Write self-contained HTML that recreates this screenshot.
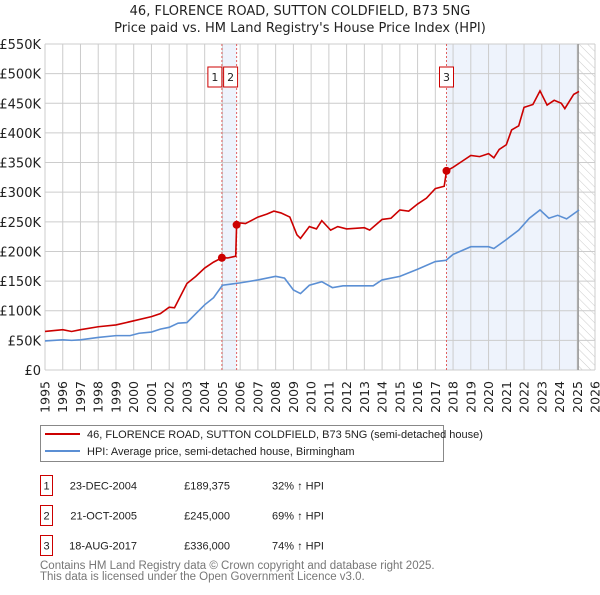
<!DOCTYPE html>
<html><head><meta charset="utf-8"><style>
body{margin:0;background:#fff;font-family:"Liberation Sans","DejaVu Sans",sans-serif;}
svg text{font-family:"DejaVu Sans","Liberation Sans",sans-serif;}
svg text.lib{font-family:"Liberation Sans","DejaVu Sans",sans-serif;}
</style></head><body>
<svg id="chart" width="600" height="590" viewBox="0 0 600 590">
<defs>
<pattern id="hatch" width="6" height="6" patternUnits="userSpaceOnUse" patternTransform="rotate(-45)">
<line x1="0" y1="0" x2="0" y2="6" stroke="#ccc" stroke-width="1"/></pattern>
</defs>
<text x="300" y="15" text-anchor="middle" font-size="13" fill="#222">46, FLORENCE ROAD, SUTTON COLDFIELD, B73 5NG</text>
<text x="300" y="32" text-anchor="middle" font-size="13" fill="#222">Price paid vs. HM Land Registry's House Price Index (HPI)</text>
<g id="bg"></g><g id="grid"></g><g id="marks"></g><g id="axes"></g>
<rect x="40.5" y="425.5" width="403" height="36" fill="#fff" stroke="#888"/>
<line x1="45" y1="434" x2="80" y2="434" stroke="#cc0000" stroke-width="2"/>
<text class="lib" x="87" y="438" font-size="11" fill="#222">46, FLORENCE ROAD, SUTTON COLDFIELD, B73 5NG (semi-detached house)</text>
<line x1="45" y1="451" x2="80" y2="451" stroke="#5b8fd4" stroke-width="2"/>
<text class="lib" x="87" y="455" font-size="11" fill="#222">HPI: Average price, semi-detached house, Birmingham</text>
<g font-size="11" fill="#222" id="table"></g>
<text class="lib" x="40" y="569" font-size="11.5" fill="#777">Contains HM Land Registry data © Crown copyright and database right 2025.</text>
<text class="lib" x="40" y="580" font-size="11.5" fill="#777">This data is licensed under the Open Government Licence v3.0.</text>
</svg>
<script>
const hpiYears=[1995,1996,1996.5,1997,1998,1999,1999.8,2000.3,2001,2001.5,2002,2002.5,2003,2003.5,2004,2004.5,2005,2005.5,2006,2007,2008,2008.5,2009,2009.4,2009.9,2010.6,2011.2,2011.8,2012.5,2013.5,2014,2015,2016,2017,2017.6,2018,2019,2020,2020.3,2021,2021.7,2022.3,2022.9,2023.4,2023.9,2024.4,2025.1];
const hpiValues=[49,51,50,51,55,58,58,62,64,69,72,79,80,95,110,122,143,145,147,152,158,155,135,129,143,149,139,142,142,142,152,158,170,183,185,195,208,208,205,220,236,256,270,256,261,255,270];
const priceYears=[1995,1996,1996.5,1997,1998,1999,2000,2001,2001.5,2002,2002.3,2003,2003.5,2004,2004.5,2004.97,2005.3,2005.75,2005.8,2006,2006.3,2007,2007.5,2007.9,2008.3,2008.8,2009.2,2009.4,2009.9,2010.3,2010.6,2011.1,2011.5,2012,2013,2013.3,2014,2014.5,2015,2015.5,2016,2016.5,2017,2017.5,2017.63,2018,2018.5,2019,2019.5,2020,2020.3,2020.6,2021,2021.3,2021.7,2022,2022.5,2022.9,2023.3,2023.7,2024.1,2024.3,2024.8,2025.1];
const priceValues=[65,68,65,68,73,76,83,90,95,106,105,146,158,172,182,189.375,189,192,245,248,247,258,263,268,265,258,228,222,242,238,252,236,242,238,240,236,254,256,270,268,280,290,306,310,336,342,352,362,360,365,358,372,380,405,412,443,448,471,447,455,450,441,465,470];
const saleYears=[2004.97,2005.8,2017.63];
const saleValues=[189.375,245,336];
const saleLabels=["1","2","3"];
const saleDates=["23-DEC-2004","21-OCT-2005","18-AUG-2017"];
const salePrices=["£189,375","£245,000","£336,000"];
const saleHpi=["32% ↑ HPI","69% ↑ HPI","74% ↑ HPI"];
const yTicks=[0,50,100,150,200,250,300,350,400,450,500,550];
const yTickLabels=["£0","£50K","£100K","£150K","£200K","£250K","£300K","£350K","£400K","£450K","£500K","£550K"];
const xTicks=[1995,1996,1997,1998,1999,2000,2001,2002,2003,2004,2005,2006,2007,2008,2009,2010,2011,2012,2013,2014,2015,2016,2017,2018,2019,2020,2021,2022,2023,2024,2025,2026];
const NS="http://www.w3.org/2000/svg";
const X0=45,X1=595,Y0=370,Y1=44;
const x=y=>X0+(y-1995)/(2026-1995)*(X1-X0);
const yv=v=>Y0-v/550*(Y0-Y1);
function mk(tag,attrs,parent){const e=document.createElementNS(NS,tag);for(const k in attrs)e.setAttribute(k,attrs[k]);document.getElementById(parent).appendChild(e);return e;}
let r=mk('rect',{x:x(saleYears[0]),y:Y1,width:x(saleYears[1])-x(saleYears[0]),height:Y0-Y1,fill:'#eef3fc'},'bg');


r=mk('rect',{x:x(saleYears[2]),y:Y1,width:x(2025.05)-x(saleYears[2]),height:Y0-Y1,fill:'#eef3fc'},'bg');


r=mk('rect',{x:x(2025.05),y:Y1,width:X1-x(2025.05),height:Y0-Y1,fill:'url(#hatch)'},'bg');


yTicks.forEach((t,i)=>{
 const l=mk('line',{x1:X0,x2:X1,y1:yv(t),y2:yv(t),stroke:'#ccc'},'grid');
 
 
 const tx=mk('text',{x:41,y:yv(t)+5,'text-anchor':'end','font-size':13,fill:'#222'},'axes');
 tx.textContent=yTickLabels[i];
 
 
});
xTicks.forEach(t=>{
 const l=mk('line',{x1:x(t),x2:x(t),y1:Y1,y2:Y0,stroke:'#ccc'},'grid');
 
 
 const px=x(t)+4.5, py=381;
 const tx=mk('text',{x:px,y:py,'text-anchor':'end','font-size':12.5,fill:'#222',transform:'rotate(-90 '+px+' '+py+')'},'axes');
 tx.textContent=t;
 
 
});
let vl=mk('line',{x1:x(2025.05),x2:x(2025.05),y1:Y1,y2:Y0,stroke:'#999','stroke-width':1.5},'grid');


saleYears.forEach((s,i)=>{
 const l=mk('line',{x1:x(s),x2:x(s),y1:Y1,y2:Y0,stroke:'#e06060','stroke-dasharray':'2,2'},'marks');
 
 
});
const hp=mk('polyline',{points:hpiYears.map((y,i)=>x(y)+','+yv(hpiValues[i])).join(' '),fill:'none',stroke:'#5b8fd4','stroke-width':1.6},'marks');


const pp=mk('polyline',{points:priceYears.map((y,i)=>x(y)+','+yv(priceValues[i])).join(' '),fill:'none',stroke:'#cc0000','stroke-width':1.6},'marks');


saleYears.forEach((s,i)=>{
 const c=mk('circle',{cx:x(s),cy:yv(saleValues[i]),r:4,fill:'#cc0000'},'marks');
 
 
 const bx=i==0?x(s)-14:(i==1?x(s)-13:x(s)-7);
 const b=mk('rect',{x:bx,y:67,width:14,height:20,fill:'#fff',stroke:'#cc0000'},'marks');
 
 
 const t=mk('text',{x:bx+7,y:81,'text-anchor':'middle','font-size':11,fill:'#222'},'marks');
 t.textContent=saleLabels[i];
 
 
 const ry=475.5+i*30;
 const tb=mk('rect',{x:40.5,y:ry,width:12,height:20,fill:'#fff',stroke:'#cc0000'},'table');
 
 
 const cells=[[46.5,saleLabels[i],'middle'],[137,saleDates[i],'end'],[230,salePrices[i],'end'],[272,saleHpi[i],'start']];
 cells.forEach((c,j)=>{const e=mk('text',{x:c[0],y:ry+14,'text-anchor':c[2],'font-size':11,fill:'#222','class':'lib'},'table');e.textContent=c[1];
  
  });
});
</script>
</body></html>
